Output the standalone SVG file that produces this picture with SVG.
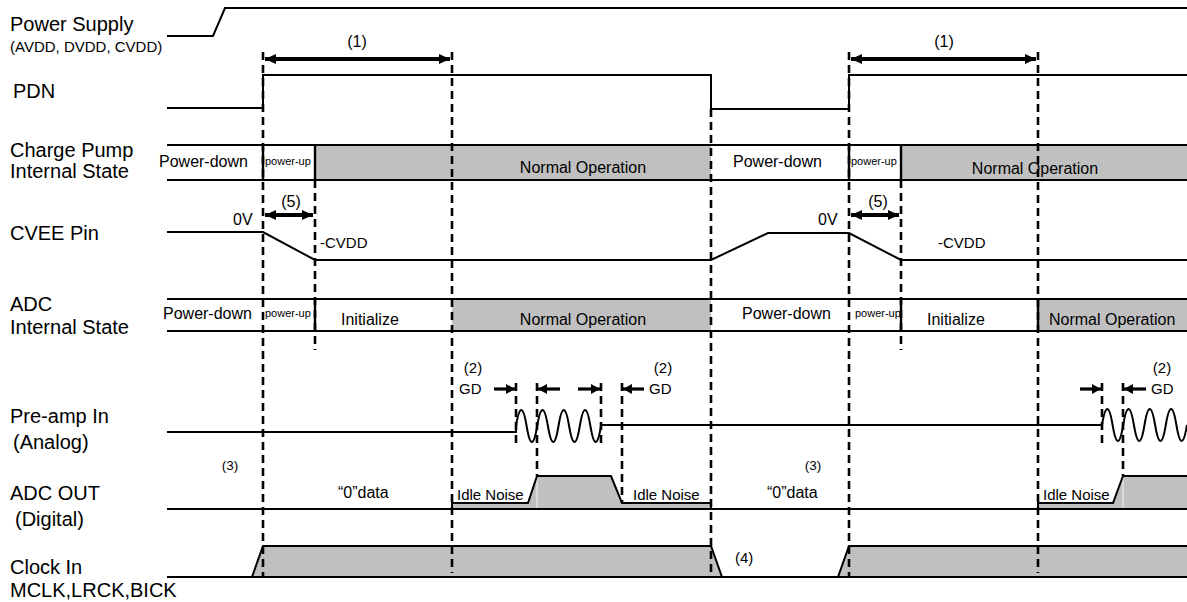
<svg xmlns="http://www.w3.org/2000/svg" width="1187" height="602" viewBox="0 0 1187 602">
<style>
text{font-family:"Liberation Sans",Arial,sans-serif;fill:#000}
.lbl{font-size:20px}
.st{font-size:16px}
.sm{font-size:11px}
.md{font-size:15px}
.w{fill:none;stroke:#000;stroke-width:2}
.g{fill:#c0c0c0;stroke:none}
.d{fill:none;stroke:#000;stroke-width:2.6;stroke-dasharray:8 5}
.v{stroke:#000;stroke-width:2.4}
.a1{stroke:#000;stroke-width:4;marker-start:url(#ah);marker-end:url(#ah)}
.a2{stroke:#000;stroke-width:3.2;marker-end:url(#ah2)}
</style>
<defs>
<marker id="ah" markerUnits="userSpaceOnUse" markerWidth="12" markerHeight="12" refX="11" refY="6" orient="auto-start-reverse">
<path d="M0,1 L11,6 L0,11 Z" fill="#000"/>
</marker>
<marker id="ah2" markerUnits="userSpaceOnUse" markerWidth="10" markerHeight="12" refX="9" refY="6" orient="auto">
<path d="M0,1 L9,6 L0,11 Z" fill="#000"/>
</marker>
</defs>
<rect width="1187" height="602" fill="#fff"/>

<g id="power-supply">
<text class="lbl" x="10" y="31">Power Supply</text>
<text class="md" x="10" y="52">(AVDD, DVDD, CVDD)</text>
<path class="w" d="M167,36 L213,36 L225,8 L1187,8"/>
</g>

<g id="pdn">
<text class="lbl" x="13" y="98">PDN</text>
<path class="w" d="M167,108 L263,108 L263,75 L711,75 L711,109 L849,109 L849,75 L1187,75"/>
</g>

<g id="charge-pump">
<text class="lbl" x="10" y="157">Charge Pump</text>
<text class="lbl" x="10" y="178">Internal State</text>
<rect class="g" x="315" y="145" width="396" height="35"/>
<rect class="g" x="901" y="145" width="286" height="35"/>
<path class="w" d="M167,145 L1187,145 M167,180 L1187,180"/>
<path class="v" d="M263,145 V180 M315,145 V180 M849,145 V180 M901,145 V180"/>
<text class="st" x="159" y="167">Power-down</text>
<text class="sm" x="265" y="165">power-up</text>
<text class="st" x="583" y="173" text-anchor="middle">Normal Operation</text>
<text class="st" x="733" y="167">Power-down</text>
<text class="sm" x="851" y="165">power-up</text>
<text class="st" x="1035" y="174" text-anchor="middle">Normal Operation</text>
</g>

<g id="cvee">
<text class="lbl" x="10" y="240">CVEE Pin</text>
<path class="w" d="M167,232 L263,232 L315,260 L711,260 L768,233 L849,233 L901,260 L1187,260"/>
<text class="st" x="233" y="225">0V</text>
<text class="st" x="818" y="225">0V</text>
<text class="md" x="320" y="248">-CVDD</text>
<text class="md" x="938" y="248">-CVDD</text>
<text class="st" x="291" y="207" text-anchor="middle">(5)</text>
<text class="st" x="878" y="207" text-anchor="middle">(5)</text>
</g>

<g id="adc-state">
<text class="lbl" x="10" y="311">ADC</text>
<text class="lbl" x="10" y="334">Internal State</text>
<rect class="g" x="452" y="299" width="259" height="32"/>
<rect class="g" x="1038" y="299" width="149" height="32"/>
<path class="w" d="M167,299 L1187,299 M167,331 L1187,331"/>
<path class="v" d="M315,299 V331 M901,299 V331 M1038,299 V331"/>
<text class="st" x="163" y="319">Power-down</text>
<text class="sm" x="265" y="317">power-up</text>
<text class="st" x="341" y="325">Initialize</text>
<text class="st" x="583" y="325" text-anchor="middle">Normal Operation</text>
<text class="st" x="742" y="319">Power-down</text>
<text class="sm" x="855" y="317">power-up</text>
<text class="st" x="927" y="325">Initialize</text>
<text class="st" x="1049" y="325">Normal Operation</text>
</g>

<g id="preamp">
<text class="lbl" x="10" y="423">Pre-amp In</text>
<text class="lbl" x="13" y="449">(Analog)</text>
<path class="w" d="M167,432 L516,432 L516,426 Q521.3,394 526.6,426 T537.2,426 T547.9,426 T558.5,426 T569.1,426 T579.8,426 T590.4,426 T601,426 L601,425 L1102,425 Q1107.3,393 1112.6,425 T1123.2,425 T1133.9,425 T1144.5,425 T1155.1,425 T1165.8,425 T1176.4,425 T1187,425"/>
<text class="md" x="473" y="373" text-anchor="middle">(2)</text>
<text class="md" x="459" y="394">GD</text>
<text class="md" x="663" y="373" text-anchor="middle">(2)</text>
<text class="md" x="649" y="394">GD</text>
<text class="md" x="1162" y="373" text-anchor="middle">(2)</text>
<text class="md" x="1151" y="394">GD</text>
</g>

<g id="adc-out">
<text class="lbl" x="10" y="500">ADC OUT</text>
<text class="lbl" x="15" y="526">(Digital)</text>
<path class="g" d="M452,509 L452,503 L528,503 L537,476 L611,476 L622,503 L711,503 L711,509 Z"/>
<path class="g" d="M1038,509 L1038,503 L1113,503 L1123,476 L1187,476 L1187,509 Z"/>
<path d="M537,478 V508 M1123,478 V508" stroke="#f2f2f2" stroke-width="1"/>
<path class="w" d="M167,509 L1187,509"/>
<path class="w" d="M452,509 L452,503 L528,503 L537,476 L611,476 L622,503 L711,503 L711,509"/>
<path class="w" d="M1038,509 L1038,503 L1113,503 L1123,476 L1187,476"/>
<text x="230" y="470" text-anchor="middle" style="font-size:13.5px">(3)</text>
<text x="813" y="470" text-anchor="middle" style="font-size:13.5px">(3)</text>
<text class="st" x="338" y="498">“0”data</text>
<text class="st" x="767" y="498">“0”data</text>
<text class="md" x="457" y="500">Idle Noise</text>
<text class="md" x="633" y="500">Idle Noise</text>
<text class="md" x="1043" y="500">Idle Noise</text>
</g>

<g id="clock">
<text class="lbl" x="10" y="574">Clock In</text>
<text class="lbl" x="10" y="597">MCLK,LRCK,BICK</text>
<path class="g" d="M252,577 L263,546 L711,546 L722,577 Z"/>
<path class="g" d="M838,577 L849,546 L1187,546 L1187,577 Z"/>
<path class="w" d="M167,577 L1187,577"/>
<path class="w" d="M252,577 L263,546 L711,546 L722,577"/>
<path class="w" d="M838,577 L849,546 L1187,546"/>
<text class="md" x="735" y="563">(4)</text>
</g>

<g id="connectors">
<path class="d" d="M263,52 V577 M452,52 V573 M711,109 V577 M849,52 V577 M1038,52 V573"/>
<path class="d" d="M315,180 V350 M901,180 V350"/>
<path class="d" d="M516,383 V447 M537,383 V476 M601,383 V447 M622,383 V503 M1102,383 V447 M1123,383 V476"/>
<line class="a1" x1="265" y1="59" x2="450" y2="59"/>
<line class="a1" x1="851" y1="59" x2="1036" y2="59"/>
<line class="a1" x1="265" y1="215" x2="313" y2="215"/>
<line class="a1" x1="851" y1="215" x2="899" y2="215"/>
<text class="st" x="357" y="47" text-anchor="middle">(1)</text>
<text class="st" x="944" y="47" text-anchor="middle">(1)</text>
<line class="a2" x1="494" y1="389" x2="515" y2="389"/>
<line class="a2" x1="560" y1="389" x2="538" y2="389"/>
<line class="a2" x1="578" y1="389" x2="600" y2="389"/>
<line class="a2" x1="644" y1="389" x2="623" y2="389"/>
<line class="a2" x1="1080" y1="389" x2="1101" y2="389"/>
<line class="a2" x1="1146" y1="389" x2="1124" y2="389"/>
</g>
</svg>
